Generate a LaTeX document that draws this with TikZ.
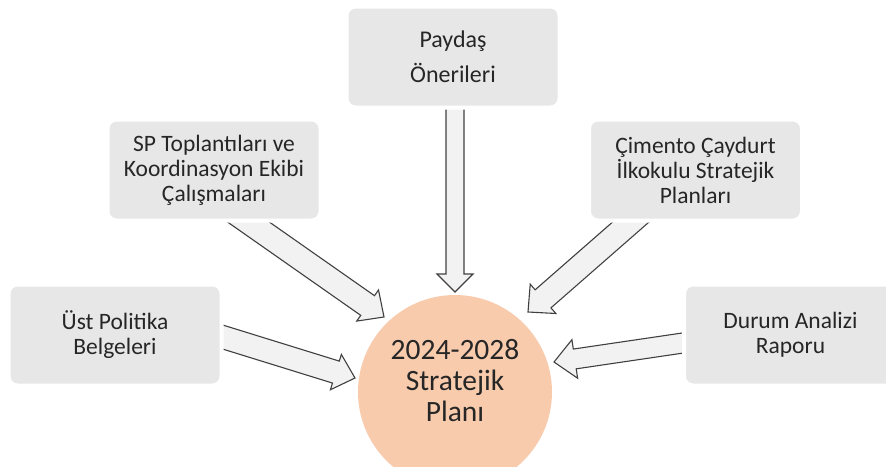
\documentclass[tikz,border=0pt]{standalone}
\usepackage{fontspec}
\setmainfont{Carlito}
\usepackage{tikz}
\usetikzlibrary{calc,positioning,backgrounds}
\definecolor{boxgray}{RGB}{231,231,231}
\definecolor{planorange}{RGB}{248,203,173}
\definecolor{arrowfill}{RGB}{242,242,242}
\definecolor{arrowline}{RGB}{64,64,64}
\definecolor{txt}{RGB}{38,38,38}

\tikzset{
    srcbox/.style={rectangle, rounded corners=9pt, fill=boxgray, draw=white, line width=4pt,
        minimum width=213pt, minimum height=101pt, align=center, text=txt,
        font=\fontsize{23.5}{25}\selectfont},
    plan/.style={circle, fill=planorange, minimum size=194pt, inner sep=0pt},
    barrow/.style={draw=arrowline, fill=arrowfill, line width=1.1pt, line join=miter},
}

% block arrow: tail, tip, shaft half width, head half width, head length
\newcommand{\blockarrow}[5]{%
    \path ($(#2)!#5!(#1)$) coordinate (hb);
    \draw[barrow] ($(#1)!#3!90:(#2)$) -- ($(hb)!#3!90:(#2)$) -- ($(hb)!#4!90:(#2)$)
        -- (#2) -- ($(hb)!#4!-90:(#2)$) -- ($(hb)!#3!-90:(#2)$) -- ($(#1)!#3!-90:(#2)$);
}

\begin{document}
\begin{tikzpicture}[x=1pt,y=-1pt]
    \useasboundingbox (0,0) rectangle (886,466);
    \clip (0,0) rectangle (886,466);

    % sources
    \node[srcbox, font=\fontsize{24}{35}\selectfont] (pay) at (453,57) {Paydaş\\Önerileri};
    \node[srcbox] (sp) at (214,170) {SP Toplantıları ve\\Koordinasyon Ekibi\\Çalışmaları};
    \node[srcbox] (cim) at (695.5,170) {Çimento Çaydurt\\İlkokulu Stratejik\\Planları};
    \node[srcbox] (ust) at (115,335) {Üst Politika\\Belgeleri};
    \node[srcbox] (durum) at (790.5,335) {Durum Analizi\\Raporu};

    % plan
    \node[plan] (plan) at (455,392) {};
    \node[text=txt, align=center, font=\fontsize{29.5}{31}\selectfont] (plantxt) at (455,381)
        {2024-2028\\Stratejik\\Planı};

    % arrows
    \coordinate (payT) at (455,80);   \coordinate (payH) at (455,292);
    \coordinate (spT) at (217,200);   \coordinate (spH) at (384,317);
    \coordinate (cimT) at (656,200);  \coordinate (cimH) at (528,312);
    \coordinate (ustT) at (200,330);  \coordinate (ustH) at (355,378);
    \coordinate (durT) at (710,339);  \coordinate (durH) at (554,362);
    \begin{scope}[on background layer]
        \blockarrow{payT}{payH}{9pt}{18pt}{18pt}
        \blockarrow{spT}{spH}{12pt}{19pt}{20pt}
        \blockarrow{cimT}{cimH}{12pt}{19.5pt}{20pt}
        \blockarrow{ustT}{ustH}{11.5pt}{18.5pt}{20pt}
        \blockarrow{durT}{durH}{10pt}{19.5pt}{21pt}
    \end{scope}
\end{tikzpicture}
\end{document}
